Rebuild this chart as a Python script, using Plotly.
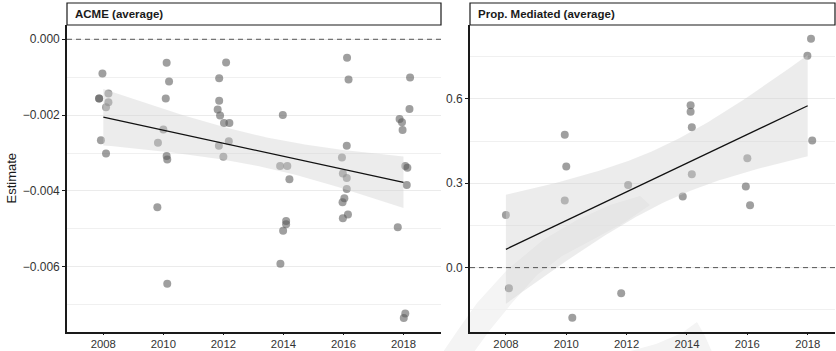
import math
import numpy as np
import plotly.graph_objects as go

W, H = 836, 351

# ---- data -------------------------------------------------------------
# ACME (average): jittered year position and estimate
ACME_X = [2007.97, 2007.86, 2007.86, 2008.17, 2008.17, 2008.09, 2007.92, 2008.09,
          2010.11, 2010.19, 2010.08, 2010.00, 2009.82, 2010.11, 2010.13, 2009.80, 2010.13,
          2012.09, 2011.86, 2011.86, 2011.81, 2011.89, 2012.02, 2012.20, 2012.18, 2011.85, 2012.00,
          2013.98, 2013.89, 2014.13, 2014.20, 2014.09, 2014.09, 2013.99, 2013.90,
          2016.12, 2016.17, 2016.11, 2015.95, 2015.98, 2016.11, 2016.11, 2016.03, 2015.97, 2016.15, 2015.98,
          2018.22, 2018.20, 2017.87, 2017.95, 2017.97, 2018.06, 2018.13, 2018.11, 2017.81, 2018.06, 2018.01]
ACME_Y = [-0.00090, -0.00156, -0.00156, -0.00143, -0.00166, -0.00179, -0.00266, -0.00301,
          -0.00062, -0.00111, -0.00156, -0.00238, -0.00273, -0.00308, -0.00317, -0.00443, -0.00645,
          -0.00061, -0.00103, -0.00162, -0.00185, -0.00201, -0.00221, -0.00221, -0.00269, -0.00281, -0.00310,
          -0.00200, -0.00334, -0.00334, -0.00369, -0.00479, -0.00488, -0.00505, -0.00592,
          -0.00049, -0.00106, -0.00281, -0.00312, -0.00354, -0.00366, -0.00395, -0.00419, -0.00430, -0.00462, -0.00472,
          -0.00101, -0.00184, -0.00210, -0.00219, -0.00239, -0.00334, -0.00339, -0.00384, -0.00496, -0.00723, -0.00735]

# Prop. Mediated (average)
PM_X = [2008.00, 2008.10, 2009.95, 2010.00, 2009.95, 2010.20, 2012.05, 2011.82,
        2014.12, 2014.12, 2014.16, 2014.16, 2013.86, 2016.00, 2015.95, 2016.09,
        2018.11, 2017.99, 2018.15]
PM_Y = [0.1875, -0.0733, 0.4722, 0.3594, 0.2384, -0.1779, 0.2943, -0.0911,
        0.5779, 0.5541, 0.4996, 0.3320, 0.2527, 0.3893, 0.2883, 0.2221,
        0.8139, 0.7534, 0.4520]

X_TICKS = [2008, 2010, 2012, 2014, 2016, 2018]
ACME_TICKS = [0.0, -0.002, -0.004, -0.006]
ACME_TICK_TEXT = ["0.000", "\u22120.002", "\u22120.004", "\u22120.006"]
PM_TICKS = [0.0, 0.3, 0.6]
PM_TICK_TEXT = ["0.0", "0.3", "0.6"]
TITLES = ["ACME (average)", "Prop. Mediated (average)"]


# ---- linear fit with 95% confidence band -------------------------------
def t_quantile(p, df):
    """Student-t quantile via bisection on a numerically integrated CDF."""
    c = math.exp(math.lgamma((df + 1) / 2) - math.lgamma(df / 2)) / math.sqrt(df * math.pi)

    def cdf(t):
        u = np.linspace(0, t, 4001)
        f = c * (1 + u ** 2 / df) ** (-(df + 1) / 2)
        return 0.5 + np.trapezoid(f, u)

    lo, hi = 0.0, 20.0
    for _ in range(80):
        mid = (lo + hi) / 2
        if cdf(mid) < p:
            lo = mid
        else:
            hi = mid
    return (lo + hi) / 2


def lm_band(xj, y):
    x = np.round(np.asarray(xj, dtype=float))
    y = np.asarray(y, dtype=float)
    n = len(x)
    b1, b0 = np.polyfit(x, y, 1)
    resid = y - (b0 + b1 * x)
    s = math.sqrt(np.sum(resid ** 2) / (n - 2))
    xbar = x.mean()
    sxx = np.sum((x - xbar) ** 2)
    xs = np.linspace(x.min(), x.max(), 80)
    fit = b0 + b1 * xs
    se = s * np.sqrt(1 / n + (xs - xbar) ** 2 / sxx)
    t = t_quantile(0.975, n - 2)
    return xs, fit, fit - t * se, fit + t * se


# ---- layout geometry (pixels) -------------------------------------------
def px(x):
    return x / W


def py(y):
    return 1 - y / H


PANELS = [
    dict(x0=67, x1=441, xr=[2006.79, 2019.25], yr=[-0.00772, 0.000377]),
    dict(x0=470, x1=835, xr=[2006.81, 2018.905], yr=[-0.229, 0.863]),
]
PLOT_TOP, PLOT_BOTTOM = 25, 332
STRIP_TOP = 3

POINT_COLOR = "rgba(90,90,90,0.58)"
BAND_COLOR = "rgba(210,210,210,0.42)"
FONT = "Liberation Sans, Arial, Helvetica, sans-serif"

fig = go.Figure()
datasets = [(ACME_X, ACME_Y), (PM_X, PM_Y)]

for i, (xd, yd) in enumerate(datasets):
    xa = "x" if i == 0 else "x2"
    ya = "y" if i == 0 else "y2"
    # points
    fig.add_trace(go.Scatter(x=xd, y=yd, mode="markers", xaxis=xa, yaxis=ya,
                             marker=dict(size=8, color=POINT_COLOR, line=dict(width=0)),
                             showlegend=False, hoverinfo="skip"))
    xs, fit, lo, hi = lm_band(xd, yd)
    # confidence band
    fig.add_trace(go.Scatter(x=np.concatenate([xs, xs[::-1]]),
                             y=np.concatenate([hi, lo[::-1]]),
                             mode="lines", fill="toself", fillcolor=BAND_COLOR,
                             line=dict(width=0), xaxis=xa, yaxis=ya,
                             showlegend=False, hoverinfo="skip"))
    # fitted line
    fig.add_trace(go.Scatter(x=xs, y=fit, mode="lines", xaxis=xa, yaxis=ya,
                             line=dict(color="#111111", width=1.3),
                             showlegend=False, hoverinfo="skip"))

axis_common = dict(showline=True, linecolor="#1a1a1a", linewidth=1.6,
                   ticks="outside", tickwidth=1, tickcolor="#1a1a1a",
                   zeroline=False, automargin=False)

layout = dict(
    width=W, height=H,
    margin=dict(l=0, r=0, t=0, b=0),
    paper_bgcolor="white", plot_bgcolor="rgba(0,0,0,0)",
    showlegend=False,
)

ydom = [py(PLOT_BOTTOM), py(PLOT_TOP)]
for i, p in enumerate(PANELS):
    sx = "" if i == 0 else "2"
    layout["xaxis" + sx] = dict(axis_common, domain=[px(p["x0"]), px(p["x1"])],
                                range=p["xr"], tickvals=X_TICKS,
                                ticktext=[str(v) for v in X_TICKS], ticklen=1,
                                tickfont=dict(family=FONT, size=11.3, color="#333333"),
                                showgrid=False, anchor="y" + sx)
    if i == 0:
        yt = dict(tickvals=ACME_TICKS, ticktext=ACME_TICK_TEXT,
                  minor=dict(tickvals=[-0.001, -0.003, -0.005, -0.007],
                             showgrid=True, gridcolor="#f0f0f0", gridwidth=1))
    else:
        yt = dict(tickvals=PM_TICKS, ticktext=PM_TICK_TEXT,
                  minor=dict(tickvals=[-0.15, 0.15, 0.45, 0.75],
                             showgrid=True, gridcolor="#f0f0f0", gridwidth=1))
    layout["yaxis" + sx] = dict(axis_common, domain=ydom, range=p["yr"], ticklen=3,
                                tickfont=dict(family=FONT, size=12, color="#333333"),
                                showgrid=True, gridcolor="#ebebeb", gridwidth=1,
                                anchor="x" + sx, **yt)

fig.update_layout(**layout)

# faint background arcs
arc1 = [(443, 352), (458, 330), (477, 303), (507, 270), (543, 240), (577, 220),
        (610, 205), (640, 196), (650, 205), (625, 222), (592, 240),
        (562, 256), (537, 275), (512, 303), (490, 330), (474, 352)]
arc2 = [(627, 352), (712, 352), (705, 336), (697, 322), (682, 333), (656, 344)]
for arc in (arc1, arc2):
    path = "M " + " L ".join(f"{px(a):.4f},{py(b):.4f}" for a, b in arc) + " Z"
    fig.add_shape(type="path", path=path, xref="paper", yref="paper",
                  fillcolor="#f4f4f4", line=dict(width=0), layer="below")

# dashed reference line at zero
for i in range(2):
    sx = "" if i == 0 else "2"
    fig.add_shape(type="line", xref=("x" + sx) + " domain", yref="y" + sx,
                  x0=0, x1=1, y0=0, y1=0,
                  line=dict(color="#555555", width=1, dash="5px,4px"))

# facet strips
for p, title in zip(PANELS, TITLES):
    fig.add_shape(type="rect", xref="paper", yref="paper",
                  x0=px(p["x0"]), x1=px(p["x1"]), y0=py(PLOT_TOP), y1=py(STRIP_TOP),
                  fillcolor="white", line=dict(color="#1a1a1a", width=1.2), layer="above")
    fig.add_annotation(x=px(p["x0"] + 6), y=py((PLOT_TOP + STRIP_TOP) / 2),
                       xref="paper", yref="paper", xanchor="left", yanchor="middle",
                       text="<b>" + title + "</b>", showarrow=False,
                       font=dict(family=FONT, size=11.5, color="#1a1a1a"))

# y-axis title
fig.add_annotation(x=px(11), y=py((PLOT_TOP + PLOT_BOTTOM) / 2), xref="paper", yref="paper",
                   text="Estimate", textangle=-90, showarrow=False,
                   xanchor="center", yanchor="middle",
                   font=dict(family=FONT, size=13, color="#1a1a1a"))

fig.write_html("out.html")
